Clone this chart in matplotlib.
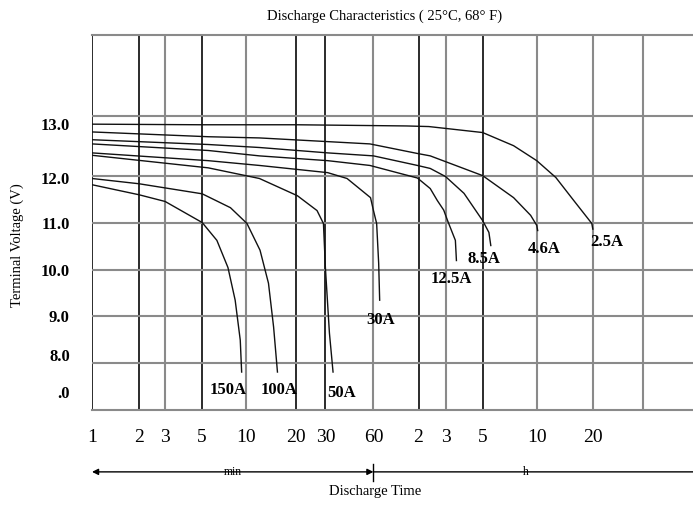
import numpy as np
from matplotlib import pyplot as plt

# grid of the time axis (minutes) and where the chart puts each line
GRID_T = [1, 2, 3, 5, 10, 20, 30, 60, 120, 180, 300, 600, 1200, 2400]
GRID_X = [0, 47, 73, 110, 154, 204, 233, 281, 326, 353, 390, 444, 500, 550]
DARK_T = [1, 2, 5, 20, 30, 120, 300]
# voltage axis is not evenly spaced either
GRID_V = [7, 8, 9, 10, 11, 12, 13]
GRID_Y = [0, 47, 94, 140, 187, 235, 295]

TICK_T = [1, 2, 3, 5, 10, 20, 30, 60, 120, 180, 300, 600, 1200]
TICK_T_LAB = ['1', '2', '3', '5', '10', '20', '30', '60', '2', '3', '5', '10', '20']
TICK_V = [7.38, 8.17, 9.0, 10.0, 11.0, 11.94, 12.87]
TICK_V_LAB = ['.0', '8.0', '9.0', '10.0', '11.0', '12.0', '13.0']

# discharge curves: minutes / volts
labels = ['150A', '100A', '50A', '30A', '12.5A', '8.5A', '4.6A', '2.5A']
t_150 = [1, 2, 3, 5, 6.3, 7.5, 8.4, 9.1, 9.3]
v_150 = [11.81, 11.6, 11.46, 11.02, 10.64, 10.06, 9.35, 8.49, 7.81]
t_100 = [1, 2, 5, 6.2, 7.8, 10.1, 12.1, 13.6, 14.6, 15.4]
v_100 = [11.94, 11.83, 11.62, 11.48, 11.33, 11.0, 10.43, 9.72, 8.77, 7.81]
t_50 = [1, 5.5, 12, 20.3, 26.7, 29.2, 30, 31.8, 33.5]
v_50 = [12.34, 12.13, 11.94, 11.58, 11.27, 11.0, 10.06, 8.64, 7.81]
t_30 = [1, 5.5, 12, 31, 41, 57.5, 60, 63, 65, 66]
v_30 = [12.38, 12.25, 12.17, 12.05, 11.94, 11.54, 11.27, 11.0, 10.15, 9.35]
t_125 = [1, 5.5, 12, 31, 57, 118, 143, 159, 175, 185, 206, 209]
v_125 = [12.53, 12.42, 12.33, 12.25, 12.17, 11.95, 11.73, 11.48, 11.28, 11.06, 10.64, 10.21]
t_85 = [1, 5.5, 12, 31, 60, 118, 143, 180, 232, 300, 325, 333]
v_85 = [12.6, 12.52, 12.47, 12.38, 12.33, 12.17, 12.12, 11.98, 11.63, 11.06, 10.81, 10.53]
t_46 = [1, 5.5, 12, 57, 118, 143, 300, 446, 555, 600, 607]
v_46 = [12.73, 12.65, 12.63, 12.53, 12.37, 12.33, 12.0, 11.54, 11.17, 10.96, 10.85]
t_25 = [1, 5, 20, 100, 140, 300, 446, 600, 760, 948, 1185, 1200]
v_25 = [12.86, 12.85, 12.85, 12.83, 12.82, 12.72, 12.5, 12.25, 11.96, 11.48, 11.0, 10.88]
curves_t = [t_150, t_100, t_50, t_30, t_125, t_85, t_46, t_25]
curves_v = [v_150, v_100, v_50, v_30, v_125, v_85, v_46, v_25]
# where each label sits relative to the end of its curve (points)
lab_off = [(-10, -13), (1, -13), (6, -15), (1, -14), (-4, -13), (-5, -10), (5, -13), (10, -9)]


def interp_ext(x, xp, fp):
    x = np.asarray(x, dtype=float)
    y = np.interp(x, xp, fp)
    k0 = (fp[1] - fp[0]) / (xp[1] - xp[0])
    k1 = (fp[-1] - fp[-2]) / (xp[-1] - xp[-2])
    y = np.where(x < xp[0], fp[0] + (x - xp[0]) * k0, y)
    y = np.where(x > xp[-1], fp[-1] + (x - xp[-1]) * k1, y)
    return y


LOG_T = np.log10(GRID_T)


def fwd_x(t):
    return interp_ext(np.log10(np.clip(t, 1e-6, None)), LOG_T, GRID_X)


def inv_x(p):
    return 10 ** interp_ext(p, GRID_X, LOG_T)


def fwd_y(v):
    return interp_ext(v, GRID_V, GRID_Y)


def inv_y(p):
    return interp_ext(p, GRID_Y, GRID_V)


serif = 'Liberation Serif'
fig = plt.figure(figsize=(6.93, 5.15), dpi=100)
ax = fig.add_axes([92 / 693, 105 / 515, 601 / 693, 375 / 515])
ax.set_xscale('function', functions=(fwd_x, inv_x))
ax.set_yscale('function', functions=(fwd_y, inv_y))
ax.set_xlim(1, 4800)
ax.set_ylim(7, 14.35)

for t in GRID_T:
    if t in DARK_T:
        ax.axvline(t, color='#1a1a1a', lw=1.3, zorder=1)
    else:
        ax.axvline(t, color='#8a8a8a', lw=1.5, zorder=1)
for v in GRID_V[1:]:
    ax.axhline(v, color='#8a8a8a', lw=1.5, zorder=1)

for t, v, lab, off in zip(curves_t, curves_v, labels, lab_off):
    ax.plot(t, v, color='#111111', lw=1.0, zorder=3)
    ax.annotate(lab, (t[-1], v[-1]), xytext=off, textcoords='offset points',
                ha='center', va='center', fontsize=12, fontweight='bold',
                family=serif)

for s in ['left', 'right']:
    ax.spines[s].set_visible(False)
for s in ['top', 'bottom']:
    ax.spines[s].set_color('#8a8a8a')
    ax.spines[s].set_linewidth(1.5)

ax.set_xticks(TICK_T)
ax.set_xticklabels(TICK_T_LAB, family=serif, fontsize=14)
ax.set_yticks(TICK_V)
ax.set_yticklabels(TICK_V_LAB, family=serif, fontsize=12, fontweight='bold')
ax.minorticks_off()
ax.tick_params(axis='x', length=0, pad=14)
ax.tick_params(axis='y', length=0, pad=16)

# time arrows under the axis
tr = ax.get_xaxis_transform()
ax.annotate('', xy=(1, -0.165), xytext=(60, -0.165), xycoords=tr, textcoords=tr,
            arrowprops=dict(arrowstyle='<|-|>', color='black', lw=1.0,
                            shrinkA=0, shrinkB=0, mutation_scale=9),
            annotation_clip=False)
ax.annotate('', xy=(4800, -0.165), xytext=(60, -0.165), xycoords=tr, textcoords=tr,
            arrowprops=dict(arrowstyle='-', color='black', lw=1.0,
                            shrinkA=0, shrinkB=0),
            annotation_clip=False)
ax.plot([60, 60], [-0.145, -0.19], transform=tr, color='black', lw=1.0, clip_on=False)
ax.text(8.1, -0.165, 'min', transform=tr, ha='center', va='center', fontsize=8.5,
        family=serif)
ax.text(520, -0.165, 'h', transform=tr, ha='center', va='center', fontsize=8.5,
        family=serif)
ax.text(62, -0.218, 'Discharge Time', transform=tr, ha='center', va='center',
        fontsize=10.5, family=serif)

fig.text(385 / 693, 1 - 16 / 515, 'Discharge Characteristics ( 25°C, 68° F)',
         ha='center', va='center', fontsize=10.5, family=serif)
fig.text(17 / 693, 1 - 245 / 515, 'Terminal Voltage (V)', rotation=90,
         ha='center', va='center', fontsize=10.5, family=serif)

fig.savefig('out.png', dpi=100)
